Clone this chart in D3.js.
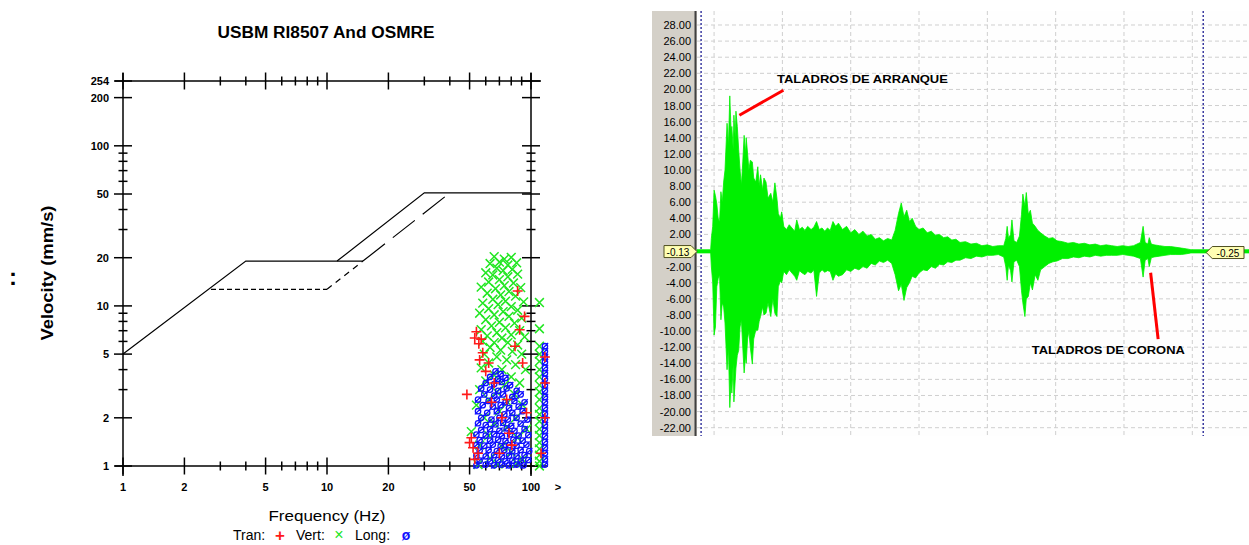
<!DOCTYPE html>
<html lang="es">
<head>
  <meta charset="UTF-8" />
  <title>USBM RI8507 & registro de vibración</title>
  <script src="https://cdn.jsdelivr.net/npm/d3@7"></script>
  <style>
    body, html { margin:0; padding:0; background:#fff; }
    svg { display:block; font-family: Arial, "Liberation Sans", sans-serif; }
    .tk { font: bold 11px Arial, "Liberation Sans", sans-serif; fill:#000; }
    .ylab { font: 11px Arial, "Liberation Sans", sans-serif; fill:#000; }
    .note { font: bold 11px Arial, "Liberation Sans", sans-serif; fill:#000; }
  </style>
</head>
<body>
<svg id="chart" width="1249" height="545"></svg>
<script>
  // ---- left chart data (frequency Hz, velocity mm/s) ----
  const xMajor = [1, 2, 5, 10, 20, 50, 100];
  const xMinor = [3, 4, 6, 7, 8, 9, 30, 40, 60, 70, 80, 90];
  const yMajor = [1, 2, 5, 10, 20, 50, 100, 200, 254];
  const yMinor = [3, 4, 6, 7, 8, 9, 30, 40, 60, 70, 80, 90];

  const limitSolidA = [[1, 5.0], [4, 19.05], [15, 19.05]];
  const limitSolidB = [[11.2, 19.05], [30, 50.8], [100, 50.8]];
  const limitDashH  = [[2.7, 12.7], [10, 12.7]];
  const limitDashD1 = [[10, 12.7], [15, 19.05]];
  const limitDashD2 = [[15, 19.05], [40, 50.8]];

  const vertPts = [
    [66,20.3],[74,19.6],[80,20.1],[70,18.8],[63,18.4],[77,18.0],[85,18.6],[68,17.2],[73,16.6],[81,16.9],
    [60,16.1],[65,15.6],[77,15.2],[86,15.8],[70,14.6],[62,14.1],[82,13.9],[74,13.4],[57,13.1],[67,12.8],
    [89,13.0],[78,12.3],[61,12.0],[71,11.7],[84,11.5],[65,11.0],[75,10.7],[58,10.4],[92,10.6],[69,10.2],
    [80,9.9],[62,9.6],[73,9.2],[86,9.4],[56,9.0],[66,8.8],[78,8.6],[90,8.4],[60,8.2],[70,7.9],
    [83,7.8],[64,7.5],[75,7.3],[57,7.1],[88,7.0],[68,6.8],[80,6.6],[61,6.5],[72,6.3],[93,6.4],
    [58,6.0],[66,5.9],[77,5.9],[86,5.7],[63,5.5],[71,5.3],[81,5.2],[59,5.0],[90,5.0],[68,4.8],
    [76,4.6],[62,4.4],[84,4.3],[57,4.1],[72,4.0],[94,4.0],[66,3.7],[80,3.6],[60,3.4],[88,3.3],
    [74,3.2],[56,3.0],[68,2.9],[83,2.8],[62,2.6],[77,2.5],[54,2.4],[91,2.4],[70,2.2],[59,2.0],
    [84,2.0],[66,1.85],[76,1.75],[51,1.64],[95,1.7],[62,1.55],[86,1.5],[56,1.35],[72,1.32],[80,1.22],
    [63,1.12],[91,1.1],[69,1.03],[55,1.02],[85,1.04],
    [110,10.5],[110,7.2],[110,5.6],[110,5.0],[110,4.5],[110,4.0],[110,3.6],[110,3.2],
    [110,2.9],[110,2.6],[110,2.3],[110,2.1],[110,1.9],[110,1.7],[110,1.55],[110,1.4],
    [110,1.28],[110,1.17],[110,1.07],[110,1.0]
  ];
  const longPts = [
    [67,3.9],[71,3.75],[63,3.6],[69,3.5],[75,3.55],[60,3.3],[66,3.25],[72,3.35],[79,3.2],[57,3.05],
    [63,3.0],[69,2.95],[76,3.05],[85,2.95],[59,2.8],[66,2.75],[73,2.8],[81,2.7],[89,2.8],[55,2.6],
    [62,2.55],[68,2.6],[75,2.5],[83,2.55],[93,2.5],[58,2.4],[65,2.35],[71,2.4],[78,2.3],[87,2.35],
    [55,2.2],[61,2.15],[68,2.2],[74,2.1],[81,2.15],[91,2.2],[57,2.0],[64,1.95],[70,2.0],[77,1.95],
    [85,2.0],[96,1.95],[55,1.85],[60,1.8],[67,1.82],[73,1.86],[80,1.78],[89,1.84],[57,1.68],[63,1.7],
    [70,1.66],[76,1.72],[83,1.66],[93,1.7],[54,1.57],[60,1.55],[66,1.58],[72,1.54],[79,1.58],[87,1.55],
    [97,1.56],[56,1.45],[63,1.44],[69,1.46],[75,1.43],[82,1.46],[91,1.44],[54,1.35],[59,1.34],[65,1.36],
    [71,1.33],[78,1.35],[85,1.34],[95,1.36],[56,1.25],[62,1.26],[68,1.24],[74,1.26],[81,1.24],[89,1.26],
    [98,1.24],[54,1.16],[60,1.15],[66,1.17],[72,1.15],[78,1.16],[85,1.15],[93,1.17],[56,1.08],[63,1.07],
    [69,1.09],[75,1.07],[81,1.08],[89,1.07],[97,1.09],[54,1.01],[60,1.02],[66,1.01],[72,1.02],[78,1.01],
    [85,1.02],[92,1.01],
    [117,5.6],[117,5.2],[117,4.8],[117,4.45],[117,4.1],[117,3.8],[117,3.5],[117,3.2],
    [117,2.95],[117,2.7],[117,2.5],[117,2.3],[117,2.12],[117,1.95],[117,1.8],[117,1.66],
    [117,1.53],[117,1.41],[117,1.3],[117,1.2],[117,1.1],[117,1.02]
  ];
  const tranPts = [
    [48.5,2.8],[53,6.3],[54,6.9],[55.5,5.8],[57,6.2],[56,4.6],[58,5.1],[60,3.9],[62,4.4],
    [88,7.1],[83.5,5.6],[91,4.4],[86,12.4],[93,8.6],[95,2.15],[50,1.4],[51,1.5],[52,1.3],
    [53,1.1],[55,1.2],[66,3.3],[72,2.0],[78,1.6],[70,1.2],[64,2.5],[76,2.6],[80.6,1.35],
    [117,4.8],[117,3.3],[117,2.0],[112,1.2]
  ];

  // ---- right chart data (time s, amplitude) ----
  const ampTicks = [-22,-20,-18,-16,-14,-12,-10,-8,-6,-4,-2,2,4,6,8,10,12,14,16,18,20,22,24,26,28];
  const gridAmp = d3.range(-22, 29, 2);
  const gridTime = [0, 1, 2, 3, 4, 5, 6, 7];
  const cursorTimes = [-0.19, 7.16];
  const cursorValues = [-0.13, -0.25];
  const waveTime = [
    -0.25,-0.05,-0.04,-0.02,0.00,0.02,0.04,0.06,0.08,0.10,0.12,0.14,0.16,0.19,0.21,0.23,0.25,0.26,0.28,0.29,
    0.31,0.32,0.34,0.36,0.38,0.40,0.42,0.44,0.46,0.47,0.49,0.51,0.53,0.56,0.58,0.61,0.64,0.66,0.68,0.71,
    0.73,0.76,0.79,0.83,0.86,0.89,0.92,0.94,0.97,0.99,1.02,1.06,1.10,1.14,1.18,1.21,1.25,1.29,1.33,1.37,
    1.42,1.46,1.50,1.54,1.58,1.62,1.66,1.70,1.74,1.78,1.82,1.88,1.94,2.00,2.06,2.12,2.18,2.24,2.30,2.36,
    2.42,2.48,2.54,2.60,2.65,2.70,2.74,2.78,2.82,2.86,2.90,2.95,3.00,3.06,3.12,3.18,3.24,3.30,3.36,3.42,
    3.48,3.54,3.60,3.68,3.76,3.84,3.92,4.00,4.08,4.16,4.24,4.27,4.29,4.31,4.34,4.36,4.39,4.43,4.47,4.50,
    4.52,4.55,4.57,4.60,4.63,4.66,4.70,4.74,4.78,4.84,4.90,4.96,5.02,5.10,5.18,5.26,5.34,5.42,5.50,5.58,
    5.66,5.74,5.82,5.90,5.98,6.06,6.14,6.24,6.28,6.31,6.35,6.37,6.40,6.44,6.52,6.60,6.68,6.76,6.84,6.92,
    6.98,7.83
  ];
  const waveHigh = [
    0.1,0.1,1.5,3.0,7.5,6.8,5.8,4.0,3.5,7.3,6.0,8.5,10.0,15.8,13.0,19.2,14.5,15.4,12.5,16.8,
    14.0,17.3,15.4,12.5,10.0,8.1,11.0,14.3,12.0,14.0,12.1,10.0,11.2,11.0,9.0,8.5,10.4,8.0,9.4,7.5,
    9.0,8.5,6.5,7.1,6.0,8.4,6.5,4.6,4.0,4.8,3.0,2.6,3.2,2.8,2.4,3.8,2.6,2.9,2.5,3.0,
    2.6,2.9,3.6,2.6,2.8,2.4,2.8,2.5,3.6,3.0,3.4,2.6,3.0,2.2,2.6,2.0,2.4,1.8,2.0,1.4,
    1.6,1.2,1.5,1.3,2.5,4.6,5.9,4.2,5.0,3.6,4.0,3.0,2.6,2.8,2.2,2.4,1.9,2.0,1.6,1.7,
    1.3,1.4,1.0,1.1,0.8,0.9,0.6,0.7,0.5,0.6,0.6,1.5,3.0,1.5,2.0,3.8,1.2,1.0,1.8,4.5,
    7.0,5.5,7.2,4.5,5.0,3.4,3.0,2.5,2.2,1.8,1.5,1.6,1.2,1.1,0.9,1.0,0.8,0.9,0.7,0.8,
    0.6,0.7,0.6,0.5,0.6,0.5,0.6,1.0,3.0,1.0,0.8,1.6,0.8,0.7,0.6,0.5,0.5,0.4,0.3,0.2,
    0.1,0.1
  ];
  const waveLow = [
    -0.3,-0.3,-2.0,-4.0,-10.5,-9.5,-4.5,-3.5,-3.0,-8.6,-6.5,-7.0,-9.0,-14.8,-12.0,-19.5,-16.0,-17.7,-14.0,-18.8,
    -16.0,-14.6,-13.0,-12.4,-9.5,-8.6,-12.0,-15.2,-13.0,-14.0,-11.0,-10.0,-12.0,-14.1,-11.0,-9.9,-9.9,-8.8,-8.2,-7.0,
    -8.0,-7.8,-6.5,-8.2,-6.0,-7.8,-8.2,-4.5,-3.8,-4.0,-2.6,-3.0,-2.4,-2.8,-3.2,-3.7,-2.5,-2.8,-3.0,-2.6,
    -2.8,-2.4,-5.7,-2.8,-2.4,-2.7,-2.5,-2.6,-3.7,-2.9,-3.2,-3.0,-2.4,-2.6,-2.2,-2.4,-2.0,-2.2,-1.6,-1.8,
    -1.3,-1.5,-1.2,-1.6,-3.0,-5.0,-4.2,-6.2,-4.6,-4.0,-3.2,-3.4,-2.8,-2.4,-2.5,-2.0,-2.2,-1.7,-1.8,-1.4,
    -1.5,-1.2,-1.2,-0.9,-1.0,-0.7,-0.8,-0.6,-0.6,-0.5,-0.8,-2.0,-3.7,-1.8,-2.5,-3.9,-1.4,-1.2,-2.0,-5.0,
    -6.5,-8.2,-6.0,-5.7,-4.0,-4.9,-3.0,-3.7,-2.4,-2.0,-1.6,-1.4,-1.3,-1.0,-1.0,-0.8,-0.9,-0.7,-0.8,-0.6,
    -0.7,-0.6,-0.6,-0.6,-0.5,-0.6,-0.7,-1.0,-3.3,-1.2,-1.0,-2.0,-0.9,-0.8,-0.7,-0.6,-0.5,-0.5,-0.5,-0.4,
    -0.3,-0.3
  ];

  const svg = d3.select('#chart');

  // ================= LEFT CHART =================
  const xL = d3.scaleLog().domain([1, 100]).range([123, 531]);
  const yL = d3.scaleLog().domain([1, 254]).range([466, 81]);
  const L = svg.append('g');

  L.append('text').attr('x', 326).attr('y', 38).attr('text-anchor', 'middle')
    .attr('font-size', 16).attr('font-weight', 'bold')
    .attr('textLength', 217).attr('lengthAdjust', 'spacingAndGlyphs')
    .text('USBM RI8507 And OSMRE');

  L.append('text').attr('transform', 'translate(53,273) rotate(-90)')
    .attr('text-anchor', 'middle').attr('font-size', 16).attr('font-weight', 'bold')
    .attr('textLength', 135).attr('lengthAdjust', 'spacingAndGlyphs')
    .text('Velocity (mm/s)');

  L.append('text').attr('x', 13).attr('y', 285).attr('text-anchor', 'middle')
    .attr('font-size', 24).attr('font-weight', 'bold').text(':');

  const ax = L.append('g').attr('stroke', '#000').attr('stroke-width', 1.5);
  const x0 = xL(1), x1 = xL(100), y0 = yL(1), y1 = yL(254);
  // frame
  ax.append('line').attr('x1', x0 - 8).attr('x2', x1 + 17).attr('y1', y0).attr('y2', y0);
  ax.append('line').attr('x1', x0 - 8).attr('x2', x1 + 10).attr('y1', y1).attr('y2', y1);
  ax.append('line').attr('x1', x0).attr('x2', x0).attr('y1', y1 - 8).attr('y2', y0 + 10);
  ax.append('line').attr('x1', x1).attr('x2', x1).attr('y1', y1 - 8).attr('y2', y0 + 10);

  // ticks crossing the axes
  [y0, y1].forEach(yy => {
    ax.selectAll(null).data(xMajor).join('line')
      .attr('x1', d => xL(d)).attr('x2', d => xL(d)).attr('y1', yy - 8.5).attr('y2', yy + 8.5);
    ax.selectAll(null).data(xMinor).join('line')
      .attr('x1', d => xL(d)).attr('x2', d => xL(d)).attr('y1', yy - 4.5).attr('y2', yy + 4.5);
  });
  [x0, x1].forEach(xx => {
    ax.selectAll(null).data(yMajor).join('line')
      .attr('y1', d => yL(d)).attr('y2', d => yL(d)).attr('x1', xx - 9).attr('x2', xx + 9);
    ax.selectAll(null).data(yMinor).join('line')
      .attr('y1', d => yL(d)).attr('y2', d => yL(d)).attr('x1', xx - 4.5).attr('x2', xx + 4.5);
  });

  L.selectAll(null).data(xMajor).join('text').attr('class', 'tk')
    .attr('x', d => xL(d)).attr('y', y0 + 25).attr('text-anchor', 'middle').text(d => d);
  L.append('text').attr('class', 'tk').attr('x', 558).attr('y', y0 + 25)
    .attr('text-anchor', 'middle').text('>');
  L.selectAll(null).data(yMajor).join('text').attr('class', 'tk')
    .attr('x', x0 - 14).attr('y', d => yL(d) + 4).attr('text-anchor', 'end').text(d => d);

  // limit curves
  const lineL = d3.line().x(d => xL(d[0])).y(d => yL(d[1]));
  const cur = L.append('g').attr('fill', 'none').attr('stroke', '#000').attr('stroke-width', 1.2);
  cur.append('path').attr('d', lineL(limitSolidA));
  cur.append('path').attr('d', lineL(limitSolidB));
  cur.append('path').attr('d', lineL(limitDashH)).attr('stroke-dasharray', '5,3');
  cur.append('path').attr('d', lineL(limitDashD1)).attr('stroke-dasharray', '6,5');
  cur.append('path').attr('d', lineL(limitDashD2)).attr('stroke-dasharray', '28,10');

  // scatter
  const pts = L.append('g').attr('fill', 'none');
  pts.selectAll('.v').data(vertPts).join('path').attr('class', 'v')
    .attr('transform', d => `translate(${xL(d[0])},${yL(d[1])})`)
    .attr('d', 'M-4.4,-4.4L4.4,4.4M-4.4,4.4L4.4,-4.4')
    .attr('stroke', '#22e622').attr('stroke-width', 1.5);
  pts.selectAll('.l').data(longPts).join('path').attr('class', 'l')
    .attr('transform', d => `translate(${xL(d[0])},${yL(d[1])})`)
    .attr('d', 'M2.7,0A2.7,2.7 0 1 1 -2.7,0A2.7,2.7 0 1 1 2.7,0M-3.2,3.2L3.2,-3.2')
    .attr('stroke', '#1010ff').attr('stroke-width', 1.3);
  pts.selectAll('.t').data(tranPts).join('path').attr('class', 't')
    .attr('transform', d => `translate(${xL(d[0])},${yL(d[1])})`)
    .attr('d', 'M-5,0H5M0,-5V5')
    .attr('stroke', '#ff1a1a').attr('stroke-width', 1.6);

  L.append('text').attr('x', 327).attr('y', 521).attr('text-anchor', 'middle')
    .attr('font-size', 14).attr('textLength', 117).attr('lengthAdjust', 'spacingAndGlyphs')
    .text('Frequency (Hz)');
  const leg = L.append('g').attr('font-size', 14);
  leg.append('text').attr('x', 233).attr('y', 540).text('Tran:');
  leg.append('text').attr('x', 280).attr('y', 541).attr('text-anchor', 'middle').attr('font-size', 17)
    .attr('font-weight', 'bold').attr('fill', '#ff1a1a').text('+');
  leg.append('text').attr('x', 296).attr('y', 540).text('Vert:');
  leg.append('text').attr('x', 339).attr('y', 540).attr('text-anchor', 'middle').attr('font-size', 16)
    .attr('fill', '#22e622').text('×');
  leg.append('text').attr('x', 355).attr('y', 540).text('Long:');
  leg.append('text').attr('x', 406).attr('y', 540).attr('text-anchor', 'middle').attr('font-weight', 'bold')
    .attr('fill', '#1010ff').text('ø');

  // ================= RIGHT CHART =================
  const xR = d3.scaleLinear().domain([-0.25, 7.83]).range([697, 1249]);
  const yR = d3.scaleLinear().domain([-22, 28]).range([427.7, 25]);
  const R = svg.append('g');
  const topY = 11, botY = 436;

  R.append('rect').attr('x', 652).attr('y', topY).attr('width', 45).attr('height', botY - topY).attr('fill', '#d4d0c8');
  R.append('rect').attr('x', 697).attr('y', topY).attr('width', 552).attr('height', botY - topY).attr('fill', '#fefefe');
  R.append('line').attr('x1', 695.5).attr('x2', 695.5).attr('y1', topY).attr('y2', botY)
    .attr('stroke', '#404040').attr('stroke-width', 2);

  const grid = R.append('g').attr('stroke', '#cfcfcf').attr('stroke-width', 1).attr('stroke-dasharray', '4,3');
  grid.selectAll(null).data(gridAmp).join('line')
    .attr('x1', 697).attr('x2', 1249).attr('y1', d => yR(d)).attr('y2', d => yR(d));
  grid.selectAll(null).data(gridTime).join('line')
    .attr('x1', d => xR(d)).attr('x2', d => xR(d)).attr('y1', topY).attr('y2', botY);

  R.selectAll(null).data(ampTicks).join('text').attr('class', 'ylab')
    .attr('x', 691).attr('y', d => yR(d) + 4).attr('text-anchor', 'end').text(d => d.toFixed(2));

  R.selectAll(null).data(cursorTimes).join('line')
    .attr('x1', d => xR(d)).attr('x2', d => xR(d)).attr('y1', topY).attr('y2', botY)
    .attr('stroke', '#3a3aa0').attr('stroke-width', 1.5).attr('stroke-dasharray', '2,2');

  const wave = waveTime.map((t, i) => ({ t, hi: waveHigh[i], lo: waveLow[i] }));
  R.append('path').datum(wave)
    .attr('d', d3.area().x(d => xR(d.t)).y0(d => yR(d.lo)).y1(d => yR(d.hi)))
    .attr('fill', '#00f000').attr('stroke', '#00f000').attr('stroke-width', 0.8);

  // cursor value boxes
  const yA = yR(cursorValues[0]), yB = yR(cursorValues[1]);
  R.append('path')
    .attr('d', `M664,${yA - 6}H691L697,${yA}L691,${yA + 6}H664Z`)
    .attr('fill', '#ffffb4').attr('stroke', '#505020').attr('stroke-width', 1);
  R.append('text').attr('x', 678).attr('y', yA + 4).attr('text-anchor', 'middle')
    .attr('font-size', 10).text(cursorValues[0].toFixed(2));
  const xb = xR(cursorTimes[1]) + 3;
  R.append('path')
    .attr('d', `M${xb},${yB}L${xb + 6},${yB - 6}H1244V${yB + 6}H${xb + 6}Z`)
    .attr('fill', '#ffffb4').attr('stroke', '#505020').attr('stroke-width', 1);
  R.append('text').attr('x', 1228).attr('y', yB + 4).attr('text-anchor', 'middle')
    .attr('font-size', 10).text(cursorValues[1].toFixed(2));

  // annotations
  R.append('text').attr('class', 'note').attr('x', xR(0.92)).attr('y', yR(21.3) + 4)
    .attr('textLength', 171).attr('lengthAdjust', 'spacingAndGlyphs').text('TALADROS DE ARRANQUE');
  R.append('line').attr('x1', xR(0.37)).attr('y1', yR(16.8)).attr('x2', xR(1.015)).attr('y2', yR(19.9))
    .attr('stroke', '#ff0000').attr('stroke-width', 3);
  R.append('text').attr('class', 'note').attr('x', xR(4.65)).attr('y', yR(-12.4) + 4)
    .attr('textLength', 153).attr('lengthAdjust', 'spacingAndGlyphs').text('TALADROS DE CORONA');
  R.append('line').attr('x1', xR(6.39)).attr('y1', yR(-2.76)).attr('x2', xR(6.50)).attr('y2', yR(-11.0))
    .attr('stroke', '#ff0000').attr('stroke-width', 3);
</script>
</body>
</html>
